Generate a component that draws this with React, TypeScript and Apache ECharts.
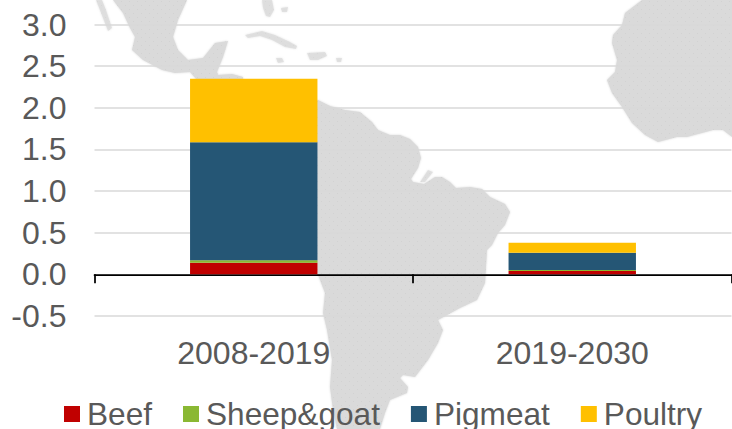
import React, { useEffect, useRef } from "react";
import * as echarts from "echarts";

const categories = ["2008-2019", "2019-2030"];
const beef = [0.14, 0.04];
const sheepGoat = [0.03, 0.012];
const pigmeat = [1.416, 0.208];
const poultry = [0.764, 0.12];
const colors = { beef: "#C00000", sheep: "#8AB833", pig: "#255675", poultry: "#FFC000" };

// Background map outlines (decorative picture behind the plot)
const mapCentralAmerica = [[113,0],[123,13],[130,28],[135,37],[132,50],[143,60],[162,70],[175,73],[190,72],[197,80],[243,80],[243,77],[232,74],[218,75],[217,72],[223,57],[228,41],[215,43],[203,58],[188,60],[178,50],[173,37],[178,20],[187,0]];
const mapSouthAmerica = [[250,150],[318,100],[330,106],[345,110],[360,112],[372,122],[378,130],[390,135],[400,135],[410,139],[418,147],[421,158],[418,168],[411,179],[413,182],[424,184],[435,177],[442,177],[450,182],[456,188],[470,187],[482,189],[490,197],[505,204],[510,212],[505,225],[498,233],[492,245],[487,250],[485,283],[477,300],[460,308],[438,320],[443,330],[438,343],[428,360],[415,377],[403,375],[400,378],[408,387],[407,393],[390,400],[385,413],[380,429],[337,429],[333,410],[330,387],[332,360],[327,330],[323,313],[325,293],[317,272],[250,272]];
const mapAfrica = [[642,0],[625,13],[622,25],[613,35],[612,43],[617,60],[615,72],[607,80],[612,93],[622,107],[632,123],[645,135],[658,142],[677,137],[687,137],[713,130],[723,130],[732,137],[732,0]];
const mainland = [mapCentralAmerica, mapSouthAmerica, mapAfrica];

const mapBaja = [[96,0],[102,0],[106,10],[112,28],[108,31],[103,18]];
const mapFlorida = [[262,0],[272,0],[274,10],[270,17],[266,16],[263,8]];
const mapCuba = [[245,35],[262,31],[275,35],[290,42],[297,46],[296,49],[285,47],[272,40],[260,36],[248,38]];
const mapHispaniola = [[307,53],[325,52],[327,56],[318,60],[310,60]];
const mapJamaica = [[276,58],[282,58],[284,62],[278,63]];
const mapPuertoRico = [[336,58],[342,58],[341,62],[337,62]];
const mapBahamas = [[281,8],[288,7],[287,12],[282,12]];
const mapMarajo = [[420,182],[428,170],[433,172],[425,182]];
const islands = [mapBaja, mapFlorida, mapCuba, mapHispaniola, mapJamaica, mapPuertoRico, mapBahamas, mapMarajo];

function makeTile() {
  const c = document.createElement("canvas");
  c.width = 8; c.height = 8;
  const g = c.getContext("2d")!;
  g.fillStyle = "#dadada"; g.fillRect(0, 0, 8, 8);
  g.fillStyle = "#d2d2d2"; g.fillRect(1, 1, 1, 1); g.fillRect(5, 5, 1, 1);
  return c;
}

const FONT = "'Liberation Sans', Arial, sans-serif";
const TEXT = "#595959";
const FS = 32;
const LEGEND_FS = 31.6;

export default function App() {
  const ref = useRef<HTMLDivElement>(null);
  useEffect(() => {
    const chart = echarts.init(ref.current!, null, { renderer: "svg" });
    const tile = makeTile();
    const bar = (name: string, data: number[], color: string) => ({
      name, type: "bar" as const, stack: "t", data, barWidth: "40%", itemStyle: { color },
    });
    const poly = (points: number[][], opacity: number) => ({
      type: "polygon", z: -10, silent: true, shape: { points },
      style: { fill: { image: tile, repeat: "repeat" }, opacity, shadowBlur: 2, shadowColor: "#dadada" },
    });
    chart.setOption({
      animation: false,
      backgroundColor: "#fff",
      textStyle: { fontFamily: FONT },
      graphic: [...mainland.map((p) => poly(p, 1)), ...islands.map((p) => poly(p, 0.7))],
      grid: { left: 94.5, right: 0.5, top: 24.5, height: 291.5, containLabel: false },
      legend: {
        left: 64, top: 398, padding: 0, itemWidth: 16, itemHeight: 16, itemGap: 31, icon: "rect",
        textStyle: { fontSize: LEGEND_FS, color: TEXT, fontFamily: FONT, padding: [0, 0, 0, 2] },
        data: ["Beef", "Sheep&goat", "Pigmeat", "Poultry"],
      },
      xAxis: {
        type: "category", data: categories,
        axisLine: { show: true, onZero: true, lineStyle: { color: "#000", width: 1.75 } },
        axisTick: { show: true, length: 9, lineStyle: { color: "#000", width: 1.75 } },
        axisLabel: { margin: 21, fontSize: FS, color: TEXT, fontFamily: FONT },
      },
      yAxis: {
        type: "value", min: -0.5, max: 3, interval: 0.5,
        axisLine: { show: false }, axisTick: { show: false },
        splitLine: { lineStyle: { color: "#d9d9d9", width: 1.5 } },
        axisLabel: { margin: 28, fontSize: FS, color: TEXT, fontFamily: FONT, formatter: (v: number) => v.toFixed(1) },
      },
      series: [
        bar("Beef", beef, colors.beef),
        bar("Sheep&goat", sheepGoat, colors.sheep),
        bar("Pigmeat", pigmeat, colors.pig),
        bar("Poultry", poultry, colors.poultry),
      ],
    });
    return () => chart.dispose();
  }, []);
  return <div ref={ref} style={{ position: "absolute", left: 0, top: 0, width: 732, height: 429 }} />;
}
